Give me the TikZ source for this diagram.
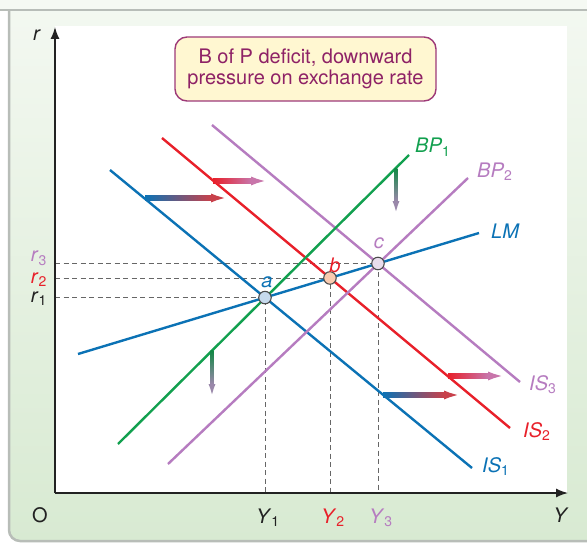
\documentclass[tikz,border=0pt]{standalone}
\usepackage{fontspec}
\setmainfont{TeX Gyre Heros}
\usetikzlibrary{arrows.meta, calc, intersections}
\definecolor{isblue}{HTML}{0B72B5}
\definecolor{isred}{HTML}{E8202A}
\definecolor{islilac}{HTML}{B67CC0}
\definecolor{bpgreen}{HTML}{12A04F}
\definecolor{notemaroon}{HTML}{9E3A78}
\definecolor{notetext}{HTML}{8E2266}
\definecolor{notefill}{HTML}{FFF7D1}
\definecolor{paneltop}{HTML}{F5F9F3}
\definecolor{panelbot}{HTML}{D8EAD2}
\definecolor{paneledge}{HTML}{B8BDB8}
\definecolor{afill}{HTML}{C6DAED}
\definecolor{bfill}{HTML}{F9CBB0}
\definecolor{cfill}{HTML}{E9DDEC}
\definecolor{shiftred}{HTML}{C8414B}
\definecolor{shiftpink}{HTML}{C875AA}
\definecolor{shiftgray}{HTML}{9A88AA}
\definecolor{ink}{HTML}{222222}

% shift arrows with a colour run along the shaft
\newcommand{\hshift}[5]{% x from, x to, y, start colour, end colour
  \draw[-{Latex[length=17pt,width=9pt]}, line width=4.5pt, #5] (#1,#3) -- (#2,#3);
  \shade[left color=#4, right color=#5] (#1,#3-2.25) rectangle (#2-17,#3+2.25);}
\newcommand{\vshift}[5]{% x, y from, y to, start colour, end colour
  \draw[-{Latex[length=13pt,width=7pt]}, line width=2.6pt, #5] (#1,#2) -- (#1,#3);
  \shade[top color=#4, bottom color=#5] (#1-1.3,#2) rectangle (#1+1.3,#3-13);}

\begin{document}
\begin{tikzpicture}[x=1pt, y=-1pt,
    curve/.style={line width=2.4pt},
    guide/.style={draw=black!60, dash pattern=on 5pt off 3.5pt, line width=0.9pt},
    point/.style={circle, draw=black!70, line width=1.1pt, minimum size=12.5pt, inner sep=0pt},
    lbl/.style={font=\fontsize{20}{22}\selectfont, inner sep=0pt},
    axis/.style={line width=1.4pt, draw=ink, -{Latex[length=12pt,width=9pt]}}]
  \useasboundingbox (0,0) rectangle (587,543);
  % frame and plot area
  \fill[white] (0,0) rectangle (587,543);
  \shadedraw[top color=paneltop, bottom color=panelbot, draw=paneledge, line width=2.5pt, rounded corners=11pt] (9,-30) rectangle (640,541);
  \fill[paneltop] (0,0) rectangle (587,9);
  \draw[paneledge, line width=2.2pt] (0,10) -- (587,10);
  \fill[white] (55,26) rectangle (567,493);

  % curves (paths first, for the crossings)
  \path[name path=LM] (78,354) -- (479,233);
  \path[name path=IS1] (110,170) -- (472,468);
  \path[name path=IS2] (162,138) -- (510,428);
  \path[name path=IS3] (212,125) -- (520,382);
  \path[name intersections={of=LM and IS1, by=a}];
  \path[name intersections={of=LM and IS2, by=b}];
  \path[name intersections={of=LM and IS3, by=c}];

  % axes
  \coordinate (O) at (55,493);
  \coordinate (rtop) at (55,27);
  \coordinate (Yend) at (568,493);

  % guides
  \draw[guide] (a -| O) -- (a) -- (a |- O);
  \draw[guide] (b -| O) -- (b) -- (b |- O);
  \draw[guide] (c -| O) -- (c) -- (c |- O);

  \draw[axis] (O) -- (rtop);
  \draw[axis] (O) -- (Yend);
  \node[lbl, anchor=base, text=ink] (rlab) at (37,41) {\textit{r}};
  \node[lbl, anchor=base, text=ink] (Olab) at (40,522) {O};
  \node[lbl, anchor=base, text=ink] (Ylab) at (561,522) {\textit{Y}};

  \draw[curve, isblue] (110,170) -- (472,468);
  \draw[curve, isred] (162,138) -- (510,428);
  \draw[curve, islilac] (212,125) -- (520,382);
  \draw[curve, bpgreen] (118,444) -- (409,155);
  \draw[curve, islilac] (168,464) -- (468,178);
  \draw[curve, isblue] (78,354) -- (479,233);

  % curve labels
  \node[lbl, anchor=base west, text=isblue] (IS1lab) at (482,472) {\textit{IS}\textsubscript{1}};
  \node[lbl, anchor=base west, text=isred] (IS2lab) at (523,437) {\textit{IS}\textsubscript{2}};
  \node[lbl, anchor=base west, text=islilac] (IS3lab) at (529,390) {\textit{IS}\textsubscript{3}};
  \node[lbl, anchor=base west, text=bpgreen] (BP1lab) at (415,153) {\textit{BP}\textsubscript{1}};
  \node[lbl, anchor=base west, text=islilac] (BP2lab) at (477,177) {\textit{BP}\textsubscript{2}};
  \node[lbl, anchor=base west, text=isblue] (LMlab) at (491,238) {\textit{LM}};

  % shifts
  \hshift{145}{228}{198}{isblue}{shiftred}
  \hshift{213}{268}{181}{isred}{shiftpink}
  \hshift{383}{461}{395}{isblue}{shiftred}
  \hshift{448}{505}{376}{isred}{shiftpink}
  \vshift{396}{168}{214}{bpgreen!85!black}{shiftgray}
  \vshift{212}{350}{397}{bpgreen!85!black}{shiftgray}

  % equilibria
  \node[point, fill=afill] (pa) at (a) {};
  \node[point, fill=bfill] (pb) at (b) {};
  \node[point, fill=cfill] (pc) at (c) {};
  \node[lbl, anchor=base, text=isblue] (alab) at ($(a)+(2,-9.6)$) {\textit{a}};
  \node[lbl, anchor=base, text=isred] (blab) at ($(b)+(5,-5)$) {\textit{b}};
  \node[lbl, anchor=base, text=islilac] (clab) at ($(c)+(1,-14.5)$) {\textit{c}};

  % axis values
  \node[lbl, anchor=base east, text=ink] (r1lab) at ($(a -| O)+(-8,4.5)$) {\textit{r}\textsubscript{1}};
  \node[lbl, anchor=base east, text=isred] (r2lab) at ($(b -| O)+(-8,5.5)$) {\textit{r}\textsubscript{2}};
  \node[lbl, anchor=base east, text=islilac] (r3lab) at ($(c -| O)+(-8,-1.5)$) {\textit{r}\textsubscript{3}};
  \node[lbl, anchor=base, text=ink] (Y1lab) at ($(a |- O)+(3,30)$) {\textit{Y}\textsubscript{1}};
  \node[lbl, anchor=base, text=isred] (Y2lab) at ($(b |- O)+(3,30)$) {\textit{Y}\textsubscript{2}};
  \node[lbl, anchor=base, text=islilac] (Y3lab) at ($(c |- O)+(3,30)$) {\textit{Y}\textsubscript{3}};

  % message box
  \node[draw=notemaroon, fill=notefill, rounded corners=12pt, line width=1.4pt, minimum width=261pt, minimum height=64pt, align=center, text=notetext, font=\fontsize{20}{21}\selectfont] (note) at (305.5,69) {B of P deficit, downward\\pressure on exchange rate};
\end{tikzpicture}
\end{document}
